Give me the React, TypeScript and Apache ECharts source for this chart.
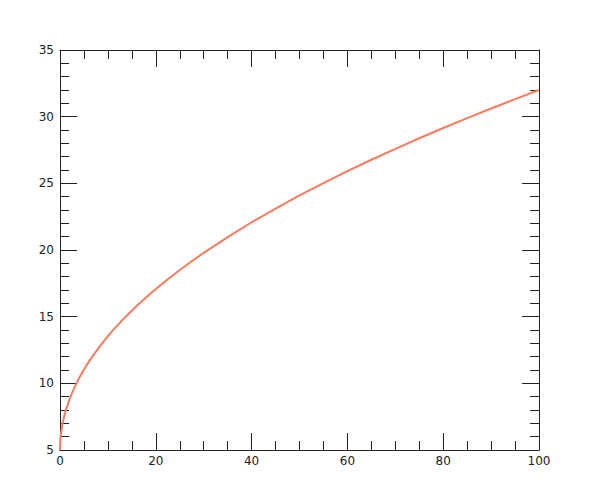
import React, { useEffect, useRef } from "react";
import * as echarts from "echarts";

const xValues = [0, 0.05, 0.1, 0.25, 0.5, 0.75, 1, 1.5, 2, 2.5, 3, 4, 5, 6, 7, 8.5, 10, 11.5, 13, 14.5, 16, 18, 20, 22.5, 25, 27.5, 30, 35, 40, 45, 50, 55, 60, 65, 70, 75, 80, 85, 90, 95, 100];
const yValues = [5, 5.6, 5.85, 6.35, 6.9, 7.34, 7.7, 8.3, 8.82, 9.27, 9.68, 10.4, 11.04, 11.61, 12.14, 12.87, 13.54, 14.16, 14.74, 15.28, 15.8, 16.45, 17.07, 17.81, 18.5, 19.16, 19.79, 20.97, 22.08, 23.11, 24.09, 25.02, 25.91, 26.77, 27.59, 28.38, 29.15, 29.89, 30.61, 31.32, 32.0];
const xRange = [0, 100];
const yRange = [5, 35];

export default function App() {
  const ref = useRef<HTMLDivElement>(null);
  useEffect(() => {
    if (!ref.current) return;
    const chart = echarts.init(ref.current, null, { renderer: "svg" });
    const axisColor = "#222";
    const xCommon = {
      type: "value" as const,
      min: xRange[0],
      max: xRange[1],
      interval: 20,
      splitLine: { show: false },
      axisLine: { show: true, onZero: false, lineStyle: { color: axisColor, width: 1 } },
      axisTick: { show: true, inside: true, length: 17, lineStyle: { color: axisColor } },
      minorTick: { show: true, splitNumber: 4, length: 9, lineStyle: { color: axisColor } },
    };
    const yCommon = {
      type: "value" as const,
      min: yRange[0],
      max: yRange[1],
      interval: 5,
      splitLine: { show: false },
      axisLine: { show: true, onZero: false, lineStyle: { color: axisColor, width: 1 } },
      axisTick: { show: true, inside: true, length: 17, lineStyle: { color: axisColor } },
      minorTick: { show: true, splitNumber: 5, length: 9, lineStyle: { color: axisColor } },
    };
    const labelStyle = { color: "#222", fontFamily: "DejaVu Sans", fontSize: 12 };
    chart.setOption({
      animation: false,
      backgroundColor: "#fff",
      grid: { left: 60, top: 50, right: 61, bottom: 50, containLabel: false },
      xAxis: [
        { ...xCommon, position: "bottom", axisLabel: { ...labelStyle, margin: 5 } },
        { ...xCommon, position: "top", axisLabel: { show: false } },
      ],
      yAxis: [
        { ...yCommon, position: "left", axisLabel: { ...labelStyle, margin: 6 } },
        { ...yCommon, position: "right", axisLabel: { show: false } },
      ],
      series: [
        {
          type: "line",
          xAxisIndex: 0,
          yAxisIndex: 0,
          data: xValues.map((x, i) => [x, yValues[i]]),
          showSymbol: false,
          smooth: false,
          lineStyle: { color: "#fd7a5c", width: 2 },
        },
      ],
    });
    return () => chart.dispose();
  }, []);
  return <div ref={ref} style={{ position: "absolute", left: 0, top: 0, width: 600, height: 500 }} />;
}
